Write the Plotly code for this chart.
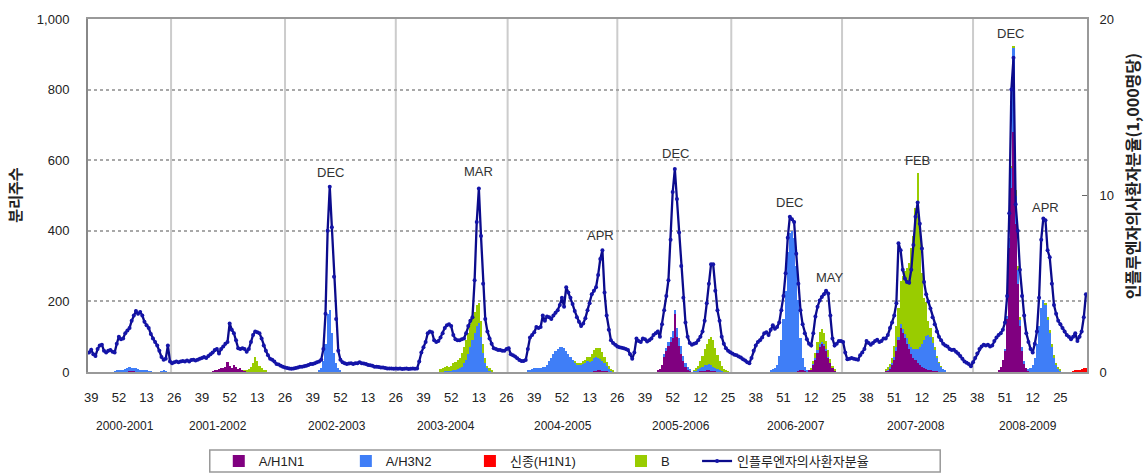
import plotly.graph_objects as go

# ---------------- data ----------------
N_WEEKS = 469
weeks = list(range(N_WEEKS))

week_labels = (["39", "52", "13", "26"] * 5 + ["39", "52"]
               + ["12", "25", "38", "51"] * 3 + ["12", "25"])
season_labels = ["2000-2001", "2001-2002", "2002-2003", "2003-2004", "2004-2005",
                 "2005-2006", "2006-2007", "2007-2008", "2008-2009"]
season_label_pos = [16.7, 60.6, 116.6, 167.8, 222.4, 277.9, 332.1, 388.3, 440.9]
season_breaks = [38.5, 92, 144, 196.5, 248, 301.5, 353.5, 415]

# ILI rate per 1,000 (right axis), one value per week
ili = [
    1.1, 1.26, 1.0, 0.9, 1.3, 1.5, 1.55, 1.2, 1.1, 1.2,
    1.25, 1.15, 1.1, 1.6, 2.0, 1.85, 1.9, 2.2, 2.35, 2.5,
    2.9, 3.2, 3.45, 3.3, 3.4, 3.2, 2.85, 2.65, 2.5, 2.15,
    1.9, 1.7, 1.5, 1.2, 0.85, 0.7, 0.75, 1.5, 0.6,
    0.5, 0.55, 0.6, 0.55, 0.6, 0.62, 0.6, 0.65, 0.6, 0.68,
    0.7, 0.65, 0.7, 0.75, 0.8, 0.85, 0.8, 0.9, 1.0, 1.1,
    1.25, 1.3, 1.05, 1.3, 1.45, 1.6, 1.7, 2.75, 2.4, 2.2,
    1.8, 1.35, 1.3, 1.35, 1.3, 1.15, 1.3, 1.7, 2.1, 2.3,
    2.25, 2.2, 1.9, 1.5, 1.2, 0.95, 0.75, 0.7, 0.6, 0.45,
    0.42, 0.35, 0.3,
    0.25, 0.22, 0.2, 0.18, 0.2, 0.22, 0.25, 0.3, 0.3, 0.32,
    0.35, 0.4, 0.45, 0.45, 0.5, 0.55, 0.6, 0.7, 1.3, 3.3,
    8.0, 10.5, 8.2, 5.4, 3.0, 1.2, 0.7, 0.55, 0.5, 0.45,
    0.48, 0.5, 0.45, 0.5, 0.5, 0.55, 0.5, 0.48, 0.45, 0.4,
    0.38, 0.35, 0.3, 0.3, 0.28, 0.25, 0.25, 0.22, 0.2, 0.2,
    0.2, 0.18, 0.2, 0.18, 0.2, 0.17, 0.18, 0.2, 0.17, 0.18,
    0.2, 0.18, 0.2, 0.6, 1.1, 1.4, 1.7, 2.2, 2.3, 2.25,
    1.8, 1.7, 1.75, 1.95, 2.2, 2.5, 2.65, 2.7, 2.6, 2.1,
    1.85, 1.8, 1.8, 1.85, 1.9, 2.2, 2.6, 2.9, 3.1, 5.2,
    8.5, 10.4, 7.7, 5.0, 3.0, 2.3, 1.9, 1.6, 1.35, 1.3,
    1.25, 1.25, 1.2, 1.2, 1.3, 1.35, 1.0, 0.95, 0.88, 0.78,
    0.68, 0.62, 0.62, 0.68, 1.3, 1.95, 2.1, 2.25, 2.55, 2.5,
    2.55, 3.2, 2.9, 3.15, 3.1, 3.0, 3.2, 3.35, 3.5, 3.8,
    4.2, 3.7, 4.8, 4.5, 4.2, 3.85, 3.45, 3.1, 2.85, 2.6,
    2.75, 3.05, 3.5, 3.9, 4.4, 4.6, 4.8, 5.5, 6.4, 6.9,
    4.5, 3.2, 2.4, 1.8, 1.65, 1.55, 1.45, 1.4, 1.38, 1.35,
    1.3, 1.25, 1.0, 0.75, 1.1, 1.9, 1.75, 1.7, 1.9, 1.85,
    1.73, 1.8, 1.9, 2.1, 2.2, 2.3, 2.0, 2.7, 3.5, 4.3,
    5.2, 7.5, 10.2, 11.5, 9.8, 7.9, 6.0, 4.2, 2.8, 2.0,
    1.65, 1.55, 1.6, 1.65, 1.8, 2.0, 2.3, 2.9, 3.9, 5.0,
    6.1, 6.1, 4.6, 3.5, 2.9, 2.0, 1.6, 1.35, 1.2, 1.12,
    1.05, 0.98, 0.95, 0.88, 0.82, 0.72, 0.65, 0.55, 0.5, 0.8,
    1.2, 1.5, 1.7, 1.8, 1.95, 2.2, 2.25, 2.1, 2.4, 2.65,
    2.45, 2.55, 2.8, 3.5, 4.3, 5.6, 7.6, 8.8, 8.65, 8.5,
    6.7, 5.0, 3.5, 2.7, 2.2, 1.85, 1.6, 1.5, 2.2, 3.15,
    3.7, 4.05, 4.25, 4.4, 4.6, 4.45, 3.2, 1.9, 1.5, 1.6,
    1.75, 1.75, 1.7, 1.1, 0.72, 0.75, 0.8, 0.75, 0.72, 0.7,
    0.95, 1.1, 1.3, 1.75, 1.65, 1.55, 1.65, 1.75, 1.83, 1.7,
    1.75, 1.9, 1.9, 2.1, 2.5, 2.8, 3.2, 3.9, 7.3, 6.9,
    5.8, 5.3, 5.1, 5.05, 5.8, 7.2, 8.8, 9.6, 8.4, 7.0,
    5.1, 4.4, 4.0, 3.6, 3.1, 2.7, 2.3, 2.0, 1.8, 1.6,
    1.5, 1.45, 1.3, 1.25, 1.26, 1.15, 1.05, 0.9, 0.75, 0.6,
    0.52, 0.45, 0.32, 0.55, 0.8, 1.05, 1.3, 1.45, 1.55, 1.5,
    1.55, 1.45, 1.5, 1.75, 1.95, 2.1, 2.2, 2.4, 2.8, 4.3,
    9.0, 16.0, 17.8, 9.5, 8.0, 5.8, 4.3, 3.2, 2.2, 1.7,
    1.3, 1.1, 1.6, 2.3, 4.2, 7.5, 8.7, 8.6, 6.9, 6.5,
    5.0, 3.8, 3.3, 2.9, 2.7, 2.5, 2.3, 2.1, 2.0, 1.85,
    2.0, 2.2, 1.75, 2.0, 2.3, 3.1, 4.4,
]

# virus isolates (left axis): (first week index, weekly counts); other weeks are 0
h1n1_segments = [
    (19, [2, 3, 2]),
    (58, [2, 4, 6, 8, 10, 12, 15, 28, 18, 12, 20, 14, 8, 10, 5, 3, 2]),
    (237, [2, 3, 5, 5, 4, 3, 2]),
    (267, [3, 8, 20, 45, 60, 75, 85, 95, 165, 100, 75, 50, 30, 15, 8, 3]),
    (287, [2, 3, 4, 5, 5, 4, 3, 2]),
    (333, [3, 5, 5, 3, 2]),
    (338, [3, 8, 20, 35, 55, 70, 80, 75, 60, 40, 25, 10, 4]),
    (374, [3, 5, 10, 20, 35, 60, 90, 125, 110, 95, 80, 65, 50, 40, 35, 25,
           20, 15, 10, 8, 5, 5, 3, 2, 2, 1]),
    (427, [5, 15, 35, 60, 150, 350, 520, 680, 420, 250, 130, 60, 25, 10, 3]),
]
h3n2_segments = [
    (12, [2, 3, 5, 4, 6, 8, 10, 12, 8, 10, 12, 9, 7, 5, 4, 3, 2, 2]),
    (34, [2, 3, 2]),
    (108, [3, 10, 30, 80, 165, 175, 110, 55, 25, 10, 3]),
    (167, [2, 2, 3, 3, 5, 5, 8, 10, 15, 25, 35, 50, 70, 90, 110, 130, 140,
           100, 55, 25, 10, 5, 2]),
    (206, [3, 5, 8, 10, 12, 10, 12, 15, 15, 20, 30, 40, 50, 60, 65, 70, 72,
           68, 60, 50, 42, 35, 28, 22, 20, 20, 22, 25, 30, 28, 32, 38, 40,
           35, 32, 28, 22, 15, 8, 4, 2]),
    (270, [5, 8, 10, 15, 20, 10, 25, 20, 25, 15, 10, 5, 3]),
    (284, [3, 5, 8, 10, 12, 15, 15, 18, 15, 12, 10, 8, 5, 3]),
    (320, [5, 8, 12, 20, 45, 90, 150, 230, 340, 395, 400, 380, 300, 200, 90,
           35, 12, 5]),
    (340, [2, 4, 6, 8, 6, 5, 4, 3]),
    (374, [2, 3, 5, 5, 8, 10, 10, 12, 12, 12, 15, 15, 20, 25, 30, 40, 50, 65,
           80, 95, 100, 95, 80, 60, 40, 25, 15, 8, 4]),
    (430, [5, 10, 30, 60, 240, 80, 40, 20, 10, 5]),
    (441, [5, 10, 20, 40, 80, 130, 180, 205, 190, 150, 110, 70, 40, 20, 10, 5]),
]
novel_segments = [
    (462, [2, 3, 5, 4, 8, 10, 12]),
]
b_segments = [
    (73, [2, 4, 8, 15, 25, 43, 30, 18, 10, 5, 3]),
    (165, [8, 10, 12, 14, 12, 15, 20, 22, 25, 30, 40, 45, 55, 60, 65, 70, 60,
           60, 55, 45, 25, 15, 8, 5, 3]),
    (228, [2, 3, 5, 6, 8, 10, 12, 15, 20, 22, 25, 28, 30, 25, 18, 12, 8, 4, 2]),
    (284, [2, 5, 10, 20, 30, 45, 60, 70, 80, 75, 55, 40, 25, 15, 8, 4, 2]),
    (339, [3, 8, 15, 25, 35, 35, 30, 25, 20, 12, 6, 2]),
    (374, [2, 5, 8, 15, 30, 60, 80, 120, 150, 180, 200, 230, 280, 320, 400,
           500, 330, 200, 120, 95, 40, 25, 15, 8, 4, 2, 1]),
    (433, [5, 3, 15, 10, 5]),
    (449, [3, 5, 8, 10, 8, 6, 5, 3]),
]

peak_labels = ["DEC", "MAR", "APR", "DEC", "DEC", "MAY", "FEB", "DEC", "APR"]
peak_x = [113.5, 182.6, 240.0, 275.2, 328.8, 348.0, 388.9, 432.6, 449.1]
peak_y = [564, 567, 388, 620, 479, 267, 600, 960, 467]


def expand(segments):
    arr = [0] * N_WEEKS
    for start, vals in segments:
        for k, v in enumerate(vals):
            arr[start + k] = v
    return arr


# ---------------- figure ----------------
NUM_FONT = "Liberation Sans, Noto Sans CJK KR, sans-serif"
KR_FONT = "Noto Sans CJK KR, sans-serif"

bar_series = [
    ("A/H1N1", h1n1_segments, "#800080", "legend"),
    ("A/H3N2", h3n2_segments, "#3F7EF7", "legend2"),
    ("신종(H1N1)", novel_segments, "#FF0000", "legend3"),
    ("B", b_segments, "#99CC00", "legend4"),
]

fig = go.Figure()
for name, segs, color, lg in bar_series:
    fig.add_trace(go.Bar(
        x=weeks, y=expand(segs), name=name, legend=lg,
        marker=dict(color=color, line=dict(width=0)),
    ))

fig.add_trace(go.Scatter(
    x=weeks, y=ili, yaxis="y2", name="인플루엔자의사환자분율", legend="legend5",
    mode="lines+markers",
    line=dict(color="#0B0B8C", width=2.3),
    marker=dict(color="#1414A8", size=4),
))

# plot-area geometry helpers (pixels)
PL, PR, PT, PB = 88.3, 1086.7, 18.7, 372.3
PW, PH = PR - PL, PB - PT


def px_x(px):
    return (px - PL) / PW


def px_y(py):
    return (PB - py) / PH


shapes = []
for b in season_breaks:
    shapes.append(dict(type="line", xref="x", yref="paper", x0=b, x1=b, y0=0, y1=1,
                       line=dict(color="#CCCCCC", width=2), layer="below"))
shapes.append(dict(type="rect", xref="paper", yref="paper",
                   x0=px_x(210), x1=px_x(940), y0=px_y(472.5), y1=px_y(450.5),
                   line=dict(color="#999999", width=1.5), fillcolor="rgba(0,0,0,0)"))

annotations = []
for lab, xv, yv in zip(peak_labels, peak_x, peak_y):
    annotations.append(dict(text=lab, x=xv, y=yv, xref="x", yref="y", showarrow=False,
                            font=dict(family=NUM_FONT, size=13, color="#333333")))
for lab, xv in zip(season_labels, season_label_pos):
    annotations.append(dict(text=lab, x=xv, y=px_y(426), xref="x", yref="paper",
                            showarrow=False, yanchor="middle",
                            font=dict(family=NUM_FONT, size=12, color="#222222")))
annotations.append(dict(text="분리주수", x=px_x(14), y=px_y(195), xref="paper", yref="paper",
                        xanchor="center", yanchor="middle",
                        showarrow=False, textangle=-90,
                        font=dict(family=KR_FONT, size=15, color="#222222", weight="bold")))
annotations.append(dict(text="인플루엔자의사환자분율(1,000명당)", x=px_x(1132), y=px_y(176),
                        xref="paper", yref="paper", xanchor="center", yanchor="middle",
                        showarrow=False, textangle=-90,
                        font=dict(family=KR_FONT, size=16, color="#222222", weight="bold")))

legend_text_start = [260, 387, 511, 662, 738]
legend_common = dict(orientation="h", yanchor="middle", xanchor="left",
                     y=px_y(461.5), bgcolor="rgba(0,0,0,0)", borderwidth=0,
                     font=dict(family=NUM_FONT, size=13, color="#222222"))
legends = {}
for k, ts in enumerate(legend_text_start):
    key = "legend" if k == 0 else f"legend{k + 1}"
    legends[key] = dict(legend_common, x=px_x(ts - 41))

fig.update_layout(
    width=1145, height=474,
    margin=dict(l=88, r=58, t=19, b=102, autoexpand=False),
    plot_bgcolor="white", paper_bgcolor="white",
    barmode="stack", bargap=0,
    showlegend=True,
    shapes=shapes, annotations=annotations,
    font=dict(family=NUM_FONT, color="#222222"),
    xaxis=dict(range=[-0.5, N_WEEKS - 0.5],
               tickvals=[1 + 13 * k for k in range(len(week_labels))],
               ticktext=week_labels, tickangle=0,
               tickfont=dict(family=NUM_FONT, size=13, color="#222222"),
               ticks="", ticklabelstandoff=12,
               showline=True, mirror=True, linecolor="#999999", linewidth=2,
               showgrid=False, zeroline=False),
    yaxis=dict(range=[0, 1000], tickvals=[0, 200, 400, 600, 800, 1000],
               tickformat=",", tickfont=dict(family=NUM_FONT, size=13, color="#222222"),
               ticks="", ticklabelstandoff=14,
               showgrid=True, gridcolor="#A8A8A8", griddash="dot", gridwidth=1.5,
               showline=True, linecolor="#888888", linewidth=2, zeroline=False),
    yaxis2=dict(range=[0, 20], tickvals=[0, 10, 20], overlaying="y", side="right",
                tickfont=dict(family=NUM_FONT, size=13, color="#222222"),
                ticks="inside", ticklen=5, tickcolor="#666666", ticklabelstandoff=8,
                showgrid=False, showline=True, linecolor="#999999", linewidth=2,
                zeroline=False),
    **legends,
)

fig.write_html("out.html",
               config={"displayModeBar": False},
               post_script="document.body.style.margin='0';document.body.style.overflow='hidden';")
